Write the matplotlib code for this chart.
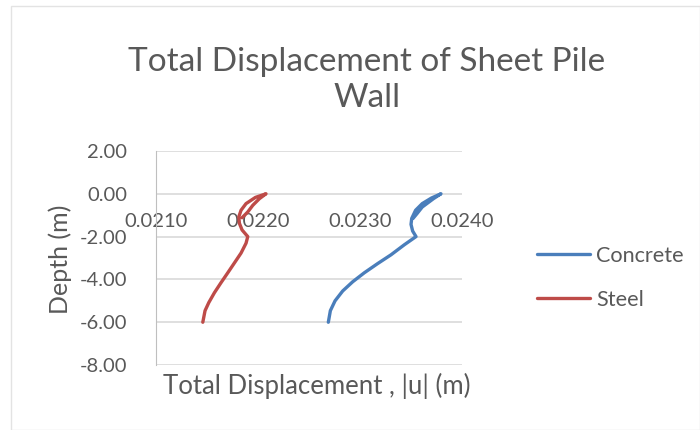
import matplotlib.pyplot as plt
from matplotlib.patches import Rectangle

plt.rcParams['font.family'] = ['Lato', 'DejaVu Sans']

# wall displacement profiles, depth (m) vs |u| (m), in node order
concrete_depth = [-1.15, -0.92, -0.62, -0.23, 0.00, -0.20, -0.46, -0.77, -1.15, -1.43,
                  -1.74, -2.00, -2.38, -2.85, -3.26, -3.69, -4.11, -4.54, -5.00, -5.46, -6.00]
concrete_u = [0.023520, 0.023560, 0.023610, 0.023720, 0.023794, 0.023700, 0.023610,
              0.023545, 0.023507, 0.023500, 0.023516, 0.023549, 0.023435, 0.023304,
              0.023173, 0.023042, 0.022928, 0.022830, 0.022755, 0.022709, 0.022689]

steel_depth = [-1.12, -0.85, -0.54, -0.23, 0.00, -0.17, -0.46, -0.77, -1.08, -1.38,
               -1.69, -2.00, -2.31, -2.77, -3.23, -3.69, -4.15, -4.62, -5.08, -5.46, -6.00]
steel_u = [0.021843, 0.021899, 0.021948, 0.022013, 0.022078, 0.021974, 0.021882,
           0.021833, 0.021811, 0.021817, 0.021843, 0.021899, 0.021882, 0.021833,
           0.021768, 0.021703, 0.021637, 0.021572, 0.021517, 0.021480, 0.021458]

x_ticks = [0.021, 0.022, 0.023, 0.024]
y_ticks = [2, 0, -2, -4, -6, -8]

text_col = '#595959'
grid_col = '#D9D9D9'

fig = plt.figure(figsize=(7, 4.3), dpi=100)
fig.patches.append(Rectangle((0.016, 0.0), 0.984, 0.986, transform=fig.transFigure,
                             fill=False, edgecolor='#E3E3E3', linewidth=1))
ax = fig.add_axes([0.223, 0.151, 0.437, 0.498])

ax.plot(concrete_u, concrete_depth, color='#4A7EBB', linewidth=2.4,
        solid_capstyle='round', solid_joinstyle='round', label='Concrete')
ax.plot(steel_u, steel_depth, color='#BE4B48', linewidth=2.4,
        solid_capstyle='round', solid_joinstyle='round', label='Steel')

ax.set_xlim(0.021, 0.024)
ax.set_ylim(-8, 2)
ax.set_xticks(x_ticks)
ax.set_xticklabels([f'{v:.4f}' for v in x_ticks])
ax.set_yticks(y_ticks)
ax.set_yticklabels([f'{v:.2f}' for v in y_ticks])

ax.yaxis.grid(True, color=grid_col, linewidth=1.2)
ax.set_axisbelow(True)
for s in ['top', 'right']:
    ax.spines[s].set_visible(False)
ax.spines['left'].set_color('#BFBFBF')
ax.spines['bottom'].set_position(('data', 0))
ax.spines['bottom'].set_visible(False)
ax.tick_params(axis='both', length=0, colors=text_col, labelsize=14.5)
ax.tick_params(axis='x', pad=14)
ax.tick_params(axis='y', pad=21)

fig.text(0.524, 0.815, 'Total Displacement of Sheet Pile\nWall', ha='center', va='center',
         fontsize=24, color=text_col, linespacing=1.25)
fig.text(0.452, 0.102, 'Total Displacement , |u| (m)', ha='center', va='center',
         fontsize=18.5, color=text_col)
fig.text(0.086, 0.398, 'Depth (m)', ha='center', va='center', rotation=90,
         fontsize=18, color=text_col)

fig.legend(loc='upper left', bbox_to_anchor=(0.767, 0.428), frameon=False,
           fontsize=15.6, handlelength=2.45, handletextpad=0.28, labelspacing=1.1,
           borderpad=0, borderaxespad=0, labelcolor=text_col)

fig.savefig('out.png', dpi=100)
